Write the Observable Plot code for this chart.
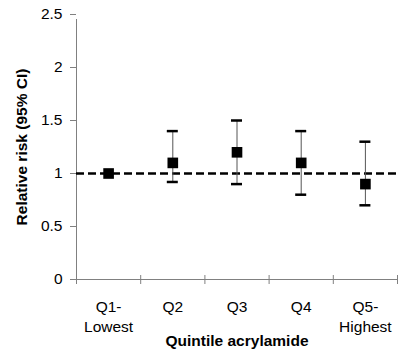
<!DOCTYPE html>
<html>
<head>
<meta charset="utf-8">
<script src="https://cdn.jsdelivr.net/npm/d3@7"></script>
<script src="https://cdn.jsdelivr.net/npm/@observablehq/plot@0.6"></script>
<style>
  html, body { margin: 0; padding: 0; background: #fff; }
</style>
</head>
<body>
<div id="chart"></div>
<script>
const categories = ["Q1-\nLowest", "Q2", "Q3", "Q4", "Q5-\nHighest"];
const relativeRisk = [1.0, 1.1, 1.2, 1.1, 0.9];
const ciLower = [null, 0.92, 0.9, 0.8, 0.7];
const ciUpper = [null, 1.4, 1.5, 1.4, 1.3];
const yTicks = [0, 0.5, 1, 1.5, 2, 2.5];
const referenceLine = [1];
const xLabel = "Quintile acrylamide";
const yLabel = "Relative risk (95% CI)";

const data = categories.map((c, i) => ({
  cat: c, pos: i + 0.5, rr: relativeRisk[i], lo: ciLower[i], hi: ciUpper[i]
}));
const withCI = data.filter(d => d.lo != null);
const bounds = d3.range(categories.length + 1);

const font = "Liberation Sans, Arial, Helvetica, sans-serif";
const axisGray = "#808080";
const fs = 15.5;

const chart = Plot.plot({
  width: 398,
  height: 350,
  marginLeft: 76,
  marginRight: 1,
  marginTop: 14,
  marginBottom: 71,
  style: { fontFamily: font, fontSize: fs + "px", background: "#fff", color: "#000" },
  x: { type: "linear", domain: [0, categories.length], axis: null },
  y: { type: "linear", domain: [0, 2.5], axis: null },
  marks: [
    // y axis line
    Plot.ruleX([0], { y1: 0, y2: 2.5, stroke: axisGray, strokeWidth: 1, insetBottom: -5 }),
    // y ticks
    Plot.ruleY(yTicks, { y: d => d, x1: 0, x2: 0, insetLeft: -6, stroke: axisGray }),
    // x axis line
    Plot.ruleY([0], { stroke: axisGray, strokeWidth: 1 }),
    // x separators
    Plot.ruleX(bounds, { x: d => d, y1: 0, y2: 0, insetTop: -4, insetBottom: -5, stroke: axisGray }),
    // y tick labels
    Plot.text(yTicks, { y: d => d, frameAnchor: "left", dx: -14, textAnchor: "end", text: d => String(d), fontSize: fs, fill: "#000" }),
    // x category labels
    Plot.text(data, { x: "pos", frameAnchor: "bottom", dy: 18.5, lineAnchor: "top", lineHeight: 1.27, text: "cat", fontSize: fs, fill: "#000" }),
    // axis titles
    Plot.text([xLabel], { frameAnchor: "bottom", dy: 55, lineAnchor: "top", textAnchor: "middle", text: d => d, fontSize: fs, fontWeight: "bold", fill: "#000" }),
    Plot.text([yLabel], { frameAnchor: "left", dx: -54, rotate: -90, textAnchor: "middle", lineAnchor: "middle", text: d => d, fontSize: fs, fontWeight: "bold", fill: "#000" }),
    // reference line
    Plot.ruleY(referenceLine, { y: d => d, stroke: "#000", strokeWidth: 2.5, strokeDasharray: "8,4" }),
    // error bars
    Plot.ruleX(withCI, { x: "pos", y1: "lo", y2: "hi", stroke: "#555", strokeWidth: 1 }),
    Plot.ruleY(withCI, { y: "hi", x1: "pos", x2: "pos", insetLeft: -5.5, insetRight: -5.5, stroke: "#000", strokeWidth: 2.5 }),
    Plot.ruleY(withCI, { y: "lo", x1: "pos", x2: "pos", insetLeft: -5.5, insetRight: -5.5, stroke: "#000", strokeWidth: 2.5 }),
    // point estimates
    Plot.dot(data, { x: "pos", y: "rr", symbol: "square", r: 6, fill: "#000", stroke: "none" })
  ]
});
document.getElementById("chart").appendChild(chart);
</script>
</body>
</html>
